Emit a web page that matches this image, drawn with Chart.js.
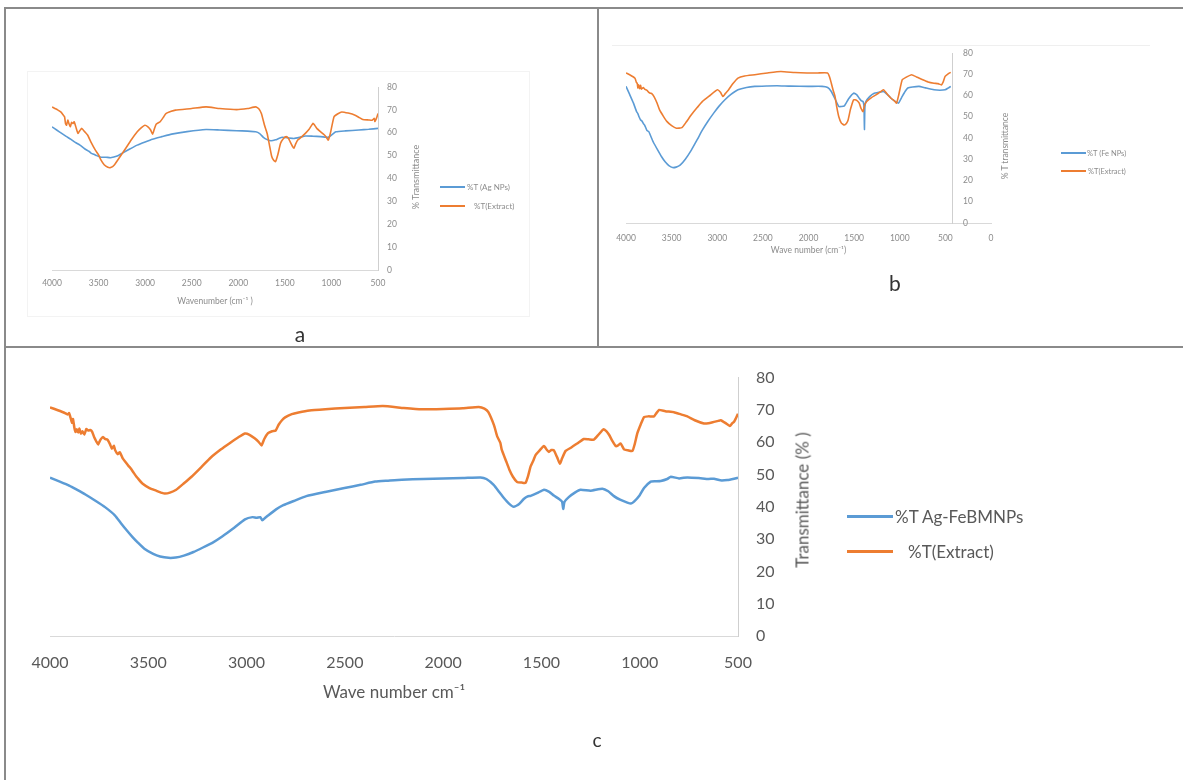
<!DOCTYPE html>
<html><head><meta charset="utf-8">
<script src="https://cdn.jsdelivr.net/npm/chart.js@4"></script>
<style>
body{margin:0;background:#fff;width:1183px;height:780px;overflow:hidden;position:relative;font-family:Lato,"Liberation Sans",sans-serif;}
.ln{position:absolute;background:#8a8a8a}
canvas{position:absolute}
.frame{position:absolute;border:1px solid #f3f3f3;box-sizing:border-box}
.legline{position:absolute}
.legtxt{position:absolute;white-space:nowrap;transform:translateY(-50%)}
.rot{position:absolute;white-space:nowrap;transform:translate(-50%,-50%) rotate(-90deg)}
.letter{position:absolute;transform:translate(-50%,-50%);color:#333;font-size:21px}
</style></head><body>

<div class="frame" style="left:27px;top:71px;width:503px;height:246px;"></div>
<div class="ln" style="left:612px;top:45px;width:538px;height:1px;background:#efefef"></div>

<canvas id="ca" width="585" height="332" style="left:10px;top:12px"></canvas>
<canvas id="cb" width="583" height="332" style="left:600px;top:12px"></canvas>
<canvas id="cc" width="1173" height="430" style="left:10px;top:350px"></canvas>

<div class="ln" style="left:4px;top:7px;width:1179px;height:2px"></div>
<div class="ln" style="left:4px;top:7px;width:2px;height:773px"></div>
<div class="ln" style="left:597px;top:7px;width:2px;height:341px"></div>
<div class="ln" style="left:4px;top:346px;width:1179px;height:2px"></div>

<div id="legends"></div>

<div class="rot" style="left:415px;top:177px;font-size:9px;color:#8c8c8c">% Transmittance</div>
<div class="rot" style="left:1005px;top:146px;font-size:8.5px;color:#8c8c8c">% T transmittance</div>
<div class="rot" style="left:802px;top:500px;font-size:17px;color:#595959">Transmittance (% )</div>

<div class="letter" style="left:300px;top:333px">a</div>
<div class="letter" style="left:895px;top:282px">b</div>
<div class="letter" style="left:597px;top:739px;font-size:19px">c</div>

<script>
// ---------- tick labels ----------
const xTicksAC = [4000,3500,3000,2500,2000,1500,1000,500];
const xTicksB = [4000,3500,3000,2500,2000,1500,1000,500,0];
const yTicks = [0,10,20,30,40,50,60,70,80];

// ---------- panel a ----------
const aAgWn = [4000,3950,3900,3844,3800,3750,3700,3650,3600,3577,3550,3520,3475,3420,3372,3300,3249,3170,3085,3000,2921,2820,2716,2550,2346,2200,2018,1900,1813,1770,1731,1690,1649,1600,1560,1526,1470,1403,1340,1280,1200,1116,1070,1034,990,952,850,705,600,500];
const aAgT  = [62.6,61.2,59.8,58.3,57.2,55.8,54.6,53.0,51.8,51.0,50.6,50.0,49.3,49.3,49.1,49.8,51.0,52.8,54.6,56.0,57.2,58.3,59.4,60.5,61.4,61.2,60.9,60.7,60.4,59.6,58.0,57.0,56.5,56.9,57.6,58.0,57.8,57.5,58.0,58.6,58.5,58.3,58.1,58.0,59.3,60.4,60.8,61.2,61.5,61.9];
const aExtWn = [4000,3940,3906,3880,3865,3855,3844,3830,3818,3803,3790,3775,3762,3740,3721,3700,3680,3650,3618,3580,3536,3500,3475,3440,3401,3370,3331,3270,3208,3150,3085,3040,3003,2970,2941,2921,2900,2880,2839,2800,2777,2720,2675,2500,2346,2200,2018,1900,1813,1780,1752,1720,1690,1665,1641,1620,1600,1575,1546,1515,1485,1460,1444,1420,1403,1385,1362,1320,1280,1240,1198,1180,1157,1110,1075,1055,1034,1010,972,930,890,820,746,700,664,600,562,540,533,515,500];
const aExtT  = [71.3,70.0,69.1,67.8,67.0,64.0,63.3,65.5,64.0,62.6,64.5,64.0,64.8,62.0,59.7,61.0,61.9,60.5,59.0,55.8,52.5,50.3,48.1,46.0,44.9,44.8,45.9,49.5,53.2,56.8,60.4,62.2,63.3,62.6,61.2,59.4,61.8,63.8,64.8,67.0,68.4,69.4,69.9,70.6,71.3,70.6,70.1,70.6,71.3,70.5,68.4,63.5,59.7,54.5,49.6,48.0,47.4,50.5,55.4,57.5,58.3,57.5,56.1,54.2,53.2,55.0,56.8,58.2,59.7,61.5,64.1,63.3,61.9,60.2,59.0,58.0,56.8,60.0,67.0,68.3,69.1,68.6,67.7,66.6,65.8,65.6,65.5,66.3,64.9,66.5,68.4];

// ---------- panel b ----------
const bFeWn = [4000,3960,3918,3885,3870,3857,3840,3825,3810,3796,3770,3750,3734,3700,3652,3610,3571,3530,3489,3450,3407,3350,3284,3220,3162,3100,3039,2980,2916,2850,2773,2680,2589,2450,2344,2200,2000,1852,1790,1750,1710,1668,1640,1607,1560,1505,1470,1444,1420,1403,1392,1387,1382,1370,1330,1280,1230,1178,1130,1076,1040,1014,980,940,912,860,789,720,625,560,503,470,441];
const bFeT  = [64.3,60.5,56.4,52.5,51.5,50.0,48.5,48.0,46.8,46.1,43.5,43.0,41.4,38.0,34.3,31.2,28.8,27.0,26.1,26.3,27.2,30.0,34.3,39.2,43.8,48.0,51.7,55.0,58.0,60.5,62.7,63.8,64.3,64.5,64.6,64.4,64.3,64.3,63.8,61.9,58.5,54.8,54.8,55.1,58.5,61.1,60.3,58.7,57.5,57.2,55.0,44.0,54.5,57.2,59.5,61.1,61.5,61.9,60.2,58.0,57.0,56.4,59.0,62.0,63.5,64.0,64.3,63.6,62.7,62.5,62.7,63.5,64.3];
const bExtWn = [4000,3960,3918,3900,3885,3877,3870,3862,3857,3848,3840,3830,3810,3796,3770,3750,3734,3715,3693,3660,3632,3590,3550,3500,3448,3387,3340,3284,3220,3162,3080,2998,2965,2937,2910,2875,2830,2773,2700,2589,2450,2303,2150,2016,1900,1791,1770,1750,1730,1709,1690,1668,1640,1607,1585,1566,1540,1505,1475,1444,1425,1403,1385,1362,1310,1260,1220,1178,1140,1096,1060,1035,1010,973,930,871,810,748,690,625,580,544,525,503,470,441];
const bExtT  = [70.6,69.8,68.7,68.0,66.0,65.8,63.5,65.0,64.3,63.2,64.8,63.0,63.8,63.0,62.4,61.5,61.1,60.8,59.5,56.5,53.2,50.2,47.7,45.8,44.6,44.9,47.5,50.9,54.3,57.2,60.0,62.7,61.5,59.5,61.0,62.7,65.5,68.2,69.2,69.8,70.6,71.3,70.8,70.6,70.6,70.6,68.8,65.8,62.5,59.5,54.5,50.0,47.0,46.1,46.8,48.5,53.5,58.0,57.8,56.4,54.0,52.4,55.5,57.2,59.0,60.3,61.5,62.7,60.8,58.7,57.5,56.4,60.5,67.4,68.6,69.8,68.6,67.4,66.4,65.8,65.6,65.0,66.3,69.0,70.2,70.9];

// ---------- panel c ----------
const cAgWn = [4000,3950,3900,3864,3820,3767,3720,3669,3640,3611,3580,3553,3520,3475,3440,3397,3360,3319,3270,3222,3170,3124,3070,3008,2970,2949,2930,2920,2905,2891,2850,2813,2760,2696,2600,2502,2420,2346,2280,2210,2100,2000,1900,1810,1780,1743,1715,1692,1665,1641,1615,1590,1570,1555,1520,1487,1460,1437,1410,1395,1389,1383,1361,1330,1301,1250,1190,1160,1131,1100,1063,1045,1029,1000,978,944,920,893,860,842,800,758,700,650,622,590,554,520,500];
const cAgT  = [49.0,47.8,46.5,45.3,43.8,41.8,39.9,37.3,35.0,32.8,30.6,28.9,27.0,25.4,24.6,24.2,24.3,24.9,26.0,27.4,29.0,30.8,33.2,36.1,36.8,36.6,36.8,35.8,36.6,37.3,39.2,40.5,41.8,43.3,44.6,45.8,46.8,47.8,48.1,48.4,48.6,48.8,48.9,49.1,48.6,46.8,44.6,42.8,41.0,40.0,40.8,42.4,43.2,43.4,44.3,45.3,44.6,43.5,42.4,41.6,39.3,41.5,43.0,44.4,45.3,45.0,45.6,44.8,43.3,42.2,41.3,41.0,41.6,43.6,45.8,47.8,47.9,48.0,48.6,49.3,48.8,49.1,48.9,48.6,48.7,48.2,48.3,48.7,49.0];
const cExtWn = [4000,3960,3930,3910,3903,3895,3888,3883,3876,3870,3864,3857,3850,3843,3835,3825,3815,3805,3795,3786,3775,3765,3755,3743,3730,3720,3708,3695,3685,3675,3669,3655,3645,3630,3615,3600,3591,3575,3560,3553,3530,3494,3460,3430,3416,3390,3358,3320,3280,3230,3183,3130,3086,3040,3008,2985,2959,2940,2924,2910,2891,2870,2852,2837,2820,2804,2770,2736,2680,2599,2500,2400,2307,2200,2111,2000,1900,1819,1790,1770,1741,1725,1709,1702,1680,1663,1645,1624,1600,1581,1568,1555,1540,1530,1510,1487,1472,1462,1450,1437,1420,1406,1395,1377,1350,1318,1284,1260,1233,1210,1185,1170,1156,1140,1122,1110,1097,1080,1060,1037,1025,1012,995,978,955,927,915,902,870,826,790,758,720,673,650,622,600,588,565,541,530,520,510,500];
const cExtT  = [70.8,69.9,69.2,68.6,69.0,67.5,66.0,67.2,64.5,63.2,64.0,63.0,64.2,62.7,63.4,62.4,64.1,63.6,63.8,63.3,61.5,60.3,59.3,60.8,61.6,61.0,60.8,59.4,58.0,58.9,57.6,56.3,56.9,55.0,53.8,52.6,52.0,50.6,49.3,48.8,47.2,45.8,45.0,44.3,44.1,44.4,45.3,47.2,49.3,52.3,55.2,57.8,59.7,61.6,62.7,62.3,61.2,60.2,59.0,61.0,62.8,63.4,63.6,65.4,66.8,67.7,68.7,69.2,69.8,70.2,70.6,70.9,71.2,70.6,70.2,70.3,70.5,70.9,70.4,69.3,65.2,61.8,59.8,57.7,54.2,51.5,49.3,47.7,47.5,47.4,49.5,52.5,54.5,56.0,57.4,58.8,57.6,57.0,57.6,57.5,55.3,53.3,55.0,57.3,58.3,59.6,61.0,60.9,60.8,62.3,64.0,63.4,62.3,60.5,58.8,59.0,59.6,57.8,57.5,57.3,59.5,62.8,65.5,67.8,68.0,68.0,69.0,70.0,69.6,69.3,68.6,68.0,66.8,65.8,65.9,66.3,66.6,66.8,66.0,65.0,65.8,66.3,67.5,68.8];

const BLUE = '#5B9BD5', ORANGE = '#ED7D31';
const FONT = 'Lato, "Liberation Sans", sans-serif';

function pts(wn, t){ return wn.map((x,i)=>({x:x, y:t[i]})); }

function makeChart(id, o){
  const shiftPlugin = {
    id:'shiftY'+id,
    afterLayout(chart){
      if(o.shiftY){ const s = chart.scales.y; s.left -= o.shiftY; s.right -= o.shiftY; }
    }
  };
  return new Chart(document.getElementById(id), {
    type:'line',
    data:{datasets:[
      {label:o.extLabel, data:pts(o.extWn,o.extT), borderColor:ORANGE, borderWidth:o.lw, pointRadius:0, tension:0.15},
      {label:o.npLabel, data:pts(o.npWn,o.npT), borderColor:BLUE, borderWidth:o.lw, pointRadius:0, tension:0.15}
    ]},
    options:{
      responsive:false, animation:false, devicePixelRatio:1,
      layout:{padding:o.pad},
      plugins:{legend:{display:false}, tooltip:{enabled:false}},
      scales:{
        x:{type:'linear', reverse:true, min:o.xMin, max:4000,
           afterBuildTicks:(s)=>{ s.ticks = o.xTicks.map(v=>({value:v})); },
           afterFit:(s)=>{ s.height = o.xH; },
           grid:{color:'rgba(0,0,0,0)', drawTicks:false},
           border:{display:true, color:'#d9d9d9', width:1},
           ticks:{color:o.tc, font:{family:FONT, size:o.fs}, padding:o.xPad, maxRotation:0, autoSkip:false, callback:(v)=>String(v)},
           title:{display:true, text:o.xTitle, color:o.tc, font:{family:FONT, size:o.tfs, lineHeight:1.2}, padding:0}
        },
        y:{type:'linear', position:'right', min:0, max:80,
           afterBuildTicks:(s)=>{ s.ticks = yTicks.map(v=>({value:v})); },
           afterFit:(s)=>{ s.width = o.yW; },
           grid:{color:'rgba(0,0,0,0)', drawTicks:false},
           border:{display:true, color:'#cfcfcf', width:1},
           ticks:{color:o.tc, font:{family:FONT, size:o.fs}, padding:o.yPad, callback:(v)=>String(v)}
        }
      }
    },
    plugins:[shiftPlugin]
  });
}

makeChart('ca', {npWn:aAgWn, npT:aAgT, extWn:aExtWn, extT:aExtT, npLabel:'%T (Ag NPs)', extLabel:'%T(Extract)',
  xMin:500, xTicks:xTicksAC, pad:{left:42, top:75, right:167, bottom:38}, xH:36, yW:50,
  fs:8.5, tfs:8.5, tc:'#8c8c8c', xPad:8, yPad:9, lw:1.6, xTitle:'Wavenumber (cm\u207B\u00B9 )'});

makeChart('cb', {npWn:bFeWn, npT:bFeT, extWn:bExtWn, extT:bExtT, npLabel:'%T (Fe NPs)', extLabel:'%T(Extract)',
  xMin:0, xTicks:xTicksB, pad:{left:26, top:41, right:152, bottom:89}, xH:32, yW:40, shiftY:39,
  fs:8.5, tfs:8.5, tc:'#8c8c8c', xPad:10, yPad:11, lw:1.6, xTitle:'Wave number (cm\u207B\u00B9)'});

makeChart('cc', {npWn:cAgWn, npT:cAgT, extWn:cExtWn, extT:cExtT, npLabel:'%T Ag-FeBMNPs', extLabel:'%T(Extract)',
  xMin:500, xTicks:xTicksAC, pad:{left:40, top:17, right:405, bottom:77}, xH:67, yW:40,
  fs:16, tfs:17, tc:'#595959', xPad:17, yPad:18, lw:2.5, xTitle:'Wave number cm\u207B\u00B9'});

// ---------- legends (HTML) ----------
const legends = [
  {x:440, w:25, y:187, h:2, color:BLUE,   tx:467, text:'%T (Ag NPs)', fs:8, col:'#8c8c8c'},
  {x:440, w:25, y:206, h:2, color:ORANGE, tx:474, text:'%T(Extract)', fs:8, col:'#8c8c8c'},
  {x:1061, w:25, y:153, h:2, color:BLUE,   tx:1087, text:'%T (Fe NPs)', fs:7.5, col:'#8c8c8c'},
  {x:1061, w:25, y:171, h:2, color:ORANGE, tx:1088, text:'%T(Extract)', fs:7.5, col:'#8c8c8c'},
  {x:847, w:46, y:516, h:3, color:BLUE,   tx:895, text:'%T Ag-FeBMNPs', fs:17, col:'#595959'},
  {x:847, w:46, y:551, h:3, color:ORANGE, tx:908, text:'%T(Extract)', fs:17, col:'#595959'}
];
const lg = document.getElementById('legends');
legends.forEach(l=>{
  const d = document.createElement('div'); d.className='legline';
  d.style.cssText = `left:${l.x}px;top:${l.y - l.h/2}px;width:${l.w}px;height:${l.h}px;background:${l.color}`;
  lg.appendChild(d);
  const t = document.createElement('div'); t.className='legtxt';
  t.style.cssText = `left:${l.tx}px;top:${l.y}px;font-size:${l.fs}px;color:${l.col}`;
  t.textContent = l.text; lg.appendChild(t);
});
</script>
</body></html>
